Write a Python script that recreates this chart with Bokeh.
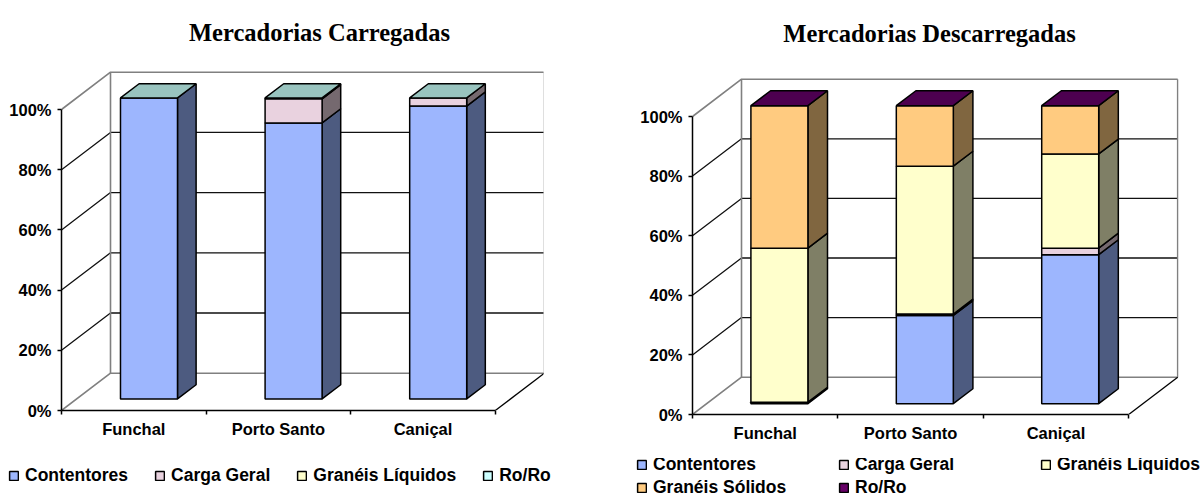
from bokeh.plotting import figure
from bokeh.layouts import row, column
from bokeh.models import FixedTicker, LinearAxis, Legend, LegendItem, Range1d
from bokeh.core.properties import value
from bokeh.embed import file_html
from bokeh.resources import INLINE

categories = ["Funchal", "Porto Santo", "Caniçal"]
y_ticks = [0, 20, 40, 60, 80, 100]

left_title = "Mercadorias Carregadas"
left_series = ["Contentores", "Carga Geral", "Granéis Líquidos", "Ro/Ro"]
left_contentores = [100.0, 91.7, 97.3]
left_carga_geral = [0.0, 8.0, 2.7]
left_liquidos = [0.0, 0.0, 0.0]
left_roro = [0.0, 0.3, 0.0]

right_title = "Mercadorias Descarregadas"
right_series = ["Contentores", "Carga Geral", "Granéis Líquidos", "Granéis Sólidos", "Ro/Ro"]
right_contentores = [0.5, 29.6, 50.0]
right_carga_geral = [0.0, 0.5, 2.2]
right_liquidos = [51.7, 49.6, 31.6]
right_solidos = [47.8, 20.3, 16.2]
right_roro = [0.0, 0.0, 0.0]

COLORS = {
    "Contentores": ("#9DB6FE", "#4D5B80"),
    "Carga Geral": ("#E9D2DF", "#75696F"),
    "Granéis Líquidos": ("#FFFFCC", "#7F7F66"),
    "Granéis Sólidos": ("#FFCB80", "#806640"),
}
LEFT_RORO = ("#CCFFFF", "#99C4BF")
RIGHT_RORO = ("#660066", "#4D0050")
NAN = float("nan")
CHART_H = 458
LEGEND_H = 37


def chart(title, series, values, roro_colors, width, border_left, frame_w, frame_h, cat_px, unit_px,
          dep0, dep1, title_x_px, title_base_px):
    x_max = frame_w / cat_px
    y_max = frame_h / unit_px
    DX = 49.0 / cat_px
    DY = 37.3 / unit_px
    W = 57.0 / cat_px

    def P(x, d, y):
        return x + d * DX, y + d * DY

    p = figure(width=width, height=CHART_H, toolbar_location=None, output_backend="svg",
               x_range=Range1d(0, x_max), y_range=Range1d(0, y_max),
               x_axis_type=None, y_axis_type=None,
               min_border_left=border_left, min_border_right=width - border_left - frame_w,
               min_border_top=0, min_border_bottom=CHART_H - frame_h,
               outline_line_color=None, background_fill_color="white")
    p.grid.visible = False

    p.text([(title_x_px - border_left) / cat_px], [(frame_h - title_base_px) / unit_px], text=[title],
           text_align="center", text_baseline="alphabetic", text_color="black",
           text_font=value("Liberation Serif"), text_font_style="bold", text_font_size="24.5px")

    # walls
    for t in y_ticks:
        pts = [P(0, 0, t), P(0, 1, t), P(3, 1, t)]
        edge = t in (0, 100)
        p.line([a for a, _ in pts], [b for _, b in pts],
               line_color="#808080" if edge else "#111111", line_width=1.6 if edge else 1.3)
    for cx in (0, 3):
        pts = [P(cx, 1, 0), P(cx, 1, 100)]
        p.line([a for a, _ in pts], [b for _, b in pts], line_color="#808080", line_width=1.6)
    pts = [P(3, 0, 0), P(3, 1, 0)]
    p.line([a for a, _ in pts], [b for _, b in pts], line_color="black", line_width=1.3)

    # bars
    for i in range(3):
        x0 = i + 0.5 - W / 2
        x1 = x0 + W
        base = 0.0
        for name in series:
            val = values[name][i]
            front, side = COLORS.get(name, roro_colors)
            if val > 0:
                a, b = base, base + val
                quad_s = [P(x1, dep0, a), P(x1, dep1, a), P(x1, dep1, b), P(x1, dep0, b)]
                p.patch([q[0] for q in quad_s], [q[1] for q in quad_s],
                        fill_color=side, line_color="black", line_width=1.5)
                quad_f = [P(x0, dep0, a), P(x1, dep0, a), P(x1, dep0, b), P(x0, dep0, b)]
                p.patch([q[0] for q in quad_f], [q[1] for q in quad_f],
                        fill_color=front, line_color="black", line_width=1.5)
            base += val
        quad_t = [P(x0, dep0, base), P(x1, dep0, base), P(x1, dep1, base), P(x0, dep1, base)]
        p.patch([q[0] for q in quad_t], [q[1] for q in quad_t],
                fill_color=roro_colors[1], line_color="black", line_width=1.5)

    # axes
    yax = LinearAxis(ticker=FixedTicker(ticks=y_ticks),
                     major_label_overrides={t: f"{t}%" for t in y_ticks},
                     bounds=(0, 100), axis_line_color="black", axis_line_width=1.5,
                     major_tick_line_color="black", major_tick_line_width=1.5,
                     major_tick_in=0, major_tick_out=4, minor_tick_out=0, minor_tick_in=0,
                     major_label_standoff=6, major_label_text_font="Liberation Sans",
                     major_label_text_font_style="bold", major_label_text_font_size="16.5px",
                     major_label_text_color="black")
    p.add_layout(yax, "left")
    mids = [i + 0.5 for i in range(3)]
    xax = LinearAxis(ticker=FixedTicker(ticks=mids, minor_ticks=[0, 1, 2, 3]),
                     major_label_overrides=dict(zip(mids, categories)),
                     bounds=(0, 3), axis_line_color="black", axis_line_width=1.5,
                     major_tick_in=0, major_tick_out=0, minor_tick_line_color="black",
                     minor_tick_line_width=1.5, minor_tick_in=0, minor_tick_out=4,
                     major_label_standoff=5, major_label_text_font="Liberation Sans",
                     major_label_text_font_style="bold", major_label_text_font_size="16.5px",
                     major_label_text_color="black")
    p.add_layout(xax, "below")
    return p


def legend_fig(series, roro_colors, width, loc, cols, label_w, spacing):
    f = figure(width=width, height=LEGEND_H, toolbar_location=None, output_backend="svg",
               x_range=Range1d(0, 1), y_range=Range1d(0, 1), x_axis_type=None, y_axis_type=None,
               min_border=0, outline_line_color=None)
    f.grid.visible = False
    items = []
    for name in series:
        front = roro_colors[0] if name == "Ro/Ro" else COLORS[name][0]
        r = f.patch([NAN, NAN, NAN], [NAN, NAN, NAN], fill_color=front, line_color="black", line_width=1.5)
        items.append(LegendItem(label=name, renderers=[r]))
    f.add_layout(Legend(items=items, location=loc, orientation="horizontal", ncols=cols,
                        border_line_color=None, background_fill_alpha=0, padding=0, margin=0,
                        spacing=spacing, glyph_width=11, glyph_height=11, label_standoff=6,
                        label_height=20, label_width=label_w,
                        label_text_font="Liberation Sans", label_text_font_style="bold",
                        label_text_font_size="17.5px", label_text_color="black"))
    return f


left_values = dict(zip(left_series, [left_contentores, left_carga_geral, left_liquidos, left_roro]))
right_values = dict(zip(right_series, [right_contentores, right_carga_geral, right_liquidos, right_solidos, right_roro]))

pl = chart(left_title, left_series, left_values, LEFT_RORO, 608, 61, 482, 410, 144.6, 3.01,
           0.31, 0.69, 319, 32)
pr = chart(right_title, right_series, right_values, RIGHT_RORO, 594, 84, 486, 414, 145.4, 2.98,
           0.29, 0.69, 321, 33)
ll = legend_fig(left_series, LEFT_RORO, 608, (8, 9), 4, 20, 26)
lr = legend_fig(right_series, RIGHT_RORO, 594, (28, -3), 3, 183, 2)

page = column(row(column(pl, spacing=0), column(pr, spacing=0), spacing=0), row(ll, lr, spacing=0), spacing=0)
open("out.html", "w").write(file_html(page, INLINE))
